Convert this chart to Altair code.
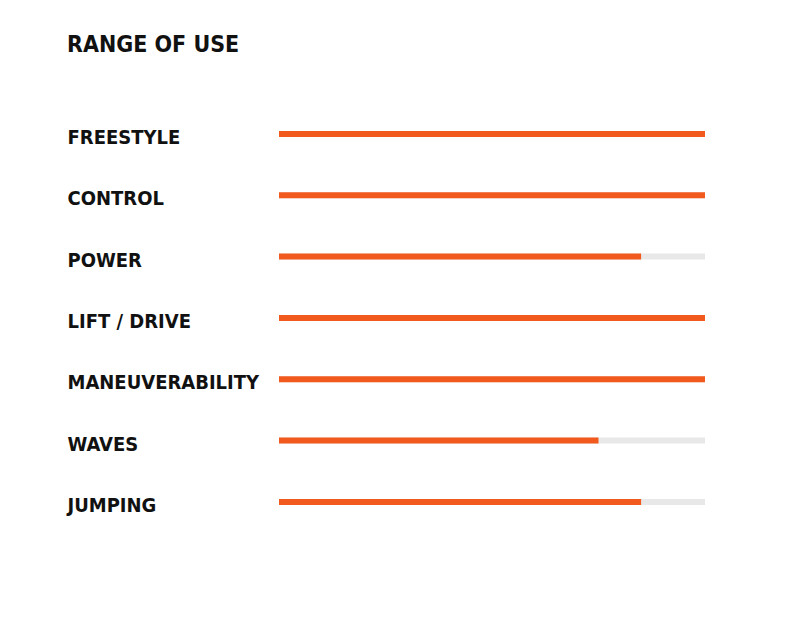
import altair as alt
import pandas as pd

categories = ["FREESTYLE", "CONTROL", "POWER", "LIFT / DRIVE", "MANEUVERABILITY", "WAVES", "JUMPING"]
values = [10, 10, 8.5, 10, 10, 7.5, 8.5]
max_values = [10, 10, 10, 10, 10, 10, 10]

df = pd.DataFrame({"category": categories, "value": values, "max": max_values})

FONT = "DejaVu Sans Condensed, Roboto, sans-serif"

y_enc = alt.Y("category:N", sort=categories,
              scale=alt.Scale(paddingInner=0, paddingOuter=0),
              axis=alt.Axis(title=None, domain=False, ticks=False, grid=False,
                            labelAlign="left", labelPadding=212, labelFont=FONT,
                            labelFontSize=20, labelFontWeight="bold", labelColor="#111111",
                            labelBaseline="middle", labelLimit=0, labelOffset=4))
x_scale = alt.Scale(domain=[0, 10], nice=False)

track = alt.Chart(df).mark_bar(size=6, color="#e8e8e8").encode(
    x=alt.X("max:Q", scale=x_scale, axis=None),
    y=y_enc,
)
fill = alt.Chart(df).mark_bar(size=6, color="#f15a1c").encode(
    x=alt.X("value:Q", scale=x_scale, axis=None),
    y=y_enc,
)

chart = alt.layer(track, fill).properties(
    width=426,
    height=429.3,
    background="white",
    title=alt.TitleParams("RANGE OF USE", anchor="start", font=FONT,
                          fontSize=23, fontWeight="bold", color="#111111", offset=46),
    autosize=alt.AutoSizeParams(type="none"),
    padding={"left": 271, "top": 95.3, "right": 0, "bottom": 0},
).configure_view(strokeWidth=0, stroke=None)

chart.save("out.html", embed_options={"renderer": "svg", "actions": False})
